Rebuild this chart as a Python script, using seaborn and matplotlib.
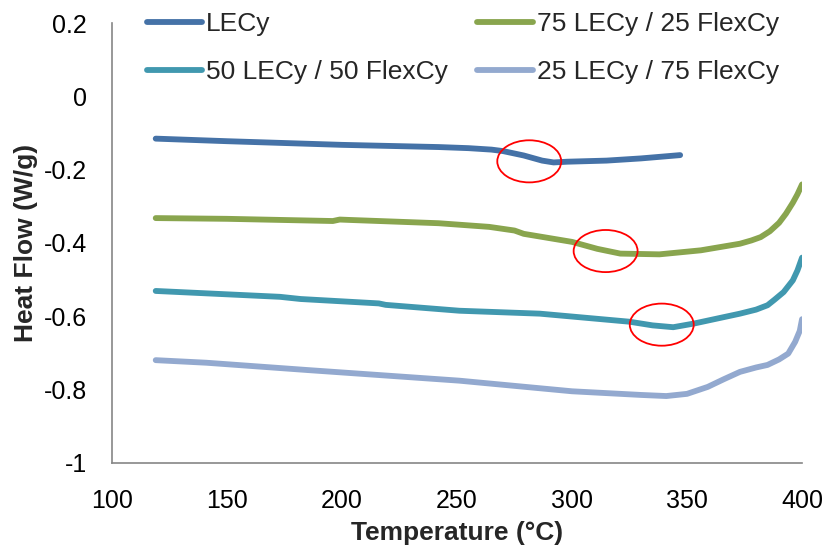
import pandas as pd
import matplotlib.pyplot as plt
import seaborn as sns
from matplotlib.patches import Ellipse

t_lecy = [119, 150, 200, 242, 255, 265, 270, 279, 287, 292, 298, 315, 330, 347]
hf_lecy = [-0.115, -0.122, -0.132, -0.138, -0.141, -0.145, -0.149, -0.161, -0.175, -0.180, -0.178, -0.175, -0.169, -0.160]

t_75 = [119, 150, 196, 199, 203, 242, 264, 275, 279, 300, 311, 321, 338, 356, 373, 378, 382, 386, 390, 393, 396, 398, 400]
hf_75 = [-0.332, -0.334, -0.340, -0.336, -0.337, -0.346, -0.356, -0.366, -0.375, -0.397, -0.416, -0.429, -0.431, -0.420,
         -0.402, -0.393, -0.384, -0.368, -0.345, -0.320, -0.29, -0.267, -0.24]

t_50 = [119, 173, 182, 216, 219, 251, 286, 325, 335, 344, 353, 373, 380, 385, 388, 392, 396, 398, 400]
hf_50 = [-0.531, -0.547, -0.553, -0.565, -0.569, -0.585, -0.593, -0.615, -0.625, -0.630, -0.620, -0.593, -0.582,
         -0.570, -0.555, -0.534, -0.502, -0.475, -0.44]

t_25 = [119, 141, 185, 251, 300, 330, 341, 350, 359, 366, 373, 380, 385, 390, 394, 397, 399, 400]
hf_25 = [-0.720, -0.727, -0.747, -0.776, -0.805, -0.815, -0.818, -0.812, -0.793, -0.772, -0.752, -0.740, -0.733,
         -0.718, -0.702, -0.67, -0.64, -0.608]

series = ['LECy', '50 LECy / 50 FlexCy', '75 LECy / 25 FlexCy', '25 LECy / 75 FlexCy']
colori = ['#4572A7', '#4198AF', '#89A54E', '#93A9CF']

# transizioni evidenziate (centro T, centro HF)
cerchi_t = [281.4, 314.6, 339.0]
cerchi_hf = [-0.177, -0.422, -0.623]

df = pd.concat([
    pd.DataFrame({'T': t_lecy, 'HF': hf_lecy, 'serie': series[0]}),
    pd.DataFrame({'T': t_50, 'HF': hf_50, 'serie': series[1]}),
    pd.DataFrame({'T': t_75, 'HF': hf_75, 'serie': series[2]}),
    pd.DataFrame({'T': t_25, 'HF': hf_25, 'serie': series[3]}),
])

sns.set_style('white')
plt.rcParams['font.family'] = ['Liberation Sans', 'DejaVu Sans']

fig = plt.figure(figsize=(8.26, 5.52), dpi=100)
ax = fig.add_axes([0.1356, 0.1618, 0.8354, 0.7960])

sns.lineplot(data=df, x='T', y='HF', hue='serie', hue_order=series,
             palette=dict(zip(series, colori)), sort=False, linewidth=4.2,
             solid_capstyle='round', solid_joinstyle='round', ax=ax)

for cx, cy in zip(cerchi_t, cerchi_hf):
    ax.add_patch(Ellipse((cx, cy), 27.8, 0.115, fill=False, edgecolor='red', linewidth=1.3, zorder=5))

ax.set_xlim(100, 400)
ax.set_ylim(-1, 0.2)
ax.set_xticks(range(100, 401, 50))
ax.set_yticks([-1, -0.8, -0.6, -0.4, -0.2, 0, 0.2])
ax.set_yticklabels(['-1', '-0.8', '-0.6', '-0.4', '-0.2', '0', '0.2'])

for s in ['top', 'right']:
    ax.spines[s].set_visible(False)
for s in ['left', 'bottom']:
    ax.spines[s].set_color('#868686')
    ax.spines[s].set_linewidth(1.2)
ax.tick_params(axis='both', direction='out', length=7, width=1.2, color='#868686',
               labelsize=18, labelcolor='black')
ax.tick_params(axis='x', pad=12)
ax.tick_params(axis='y', pad=11)

ax.set_xlabel('Temperature (°C)', fontsize=19, fontweight='bold')
ax.set_ylabel('Heat Flow (W/g)', fontsize=19, fontweight='bold')
ax.xaxis.set_label_coords(0.5, -0.133)
ax.yaxis.set_label_coords(-0.107, 0.5)

ax.get_legend().remove()
handles, labels = ax.get_legend_handles_labels()
fig.legend(handles, labels, ncol=2, loc='upper left', bbox_to_anchor=(147 / 826, 1 - 12 / 552),
           frameon=False, fontsize=19, handlelength=2.1, handletextpad=0.15,
           columnspacing=1.1, labelspacing=0.9, borderpad=0, borderaxespad=0)

plt.savefig('out.png', dpi=100)
